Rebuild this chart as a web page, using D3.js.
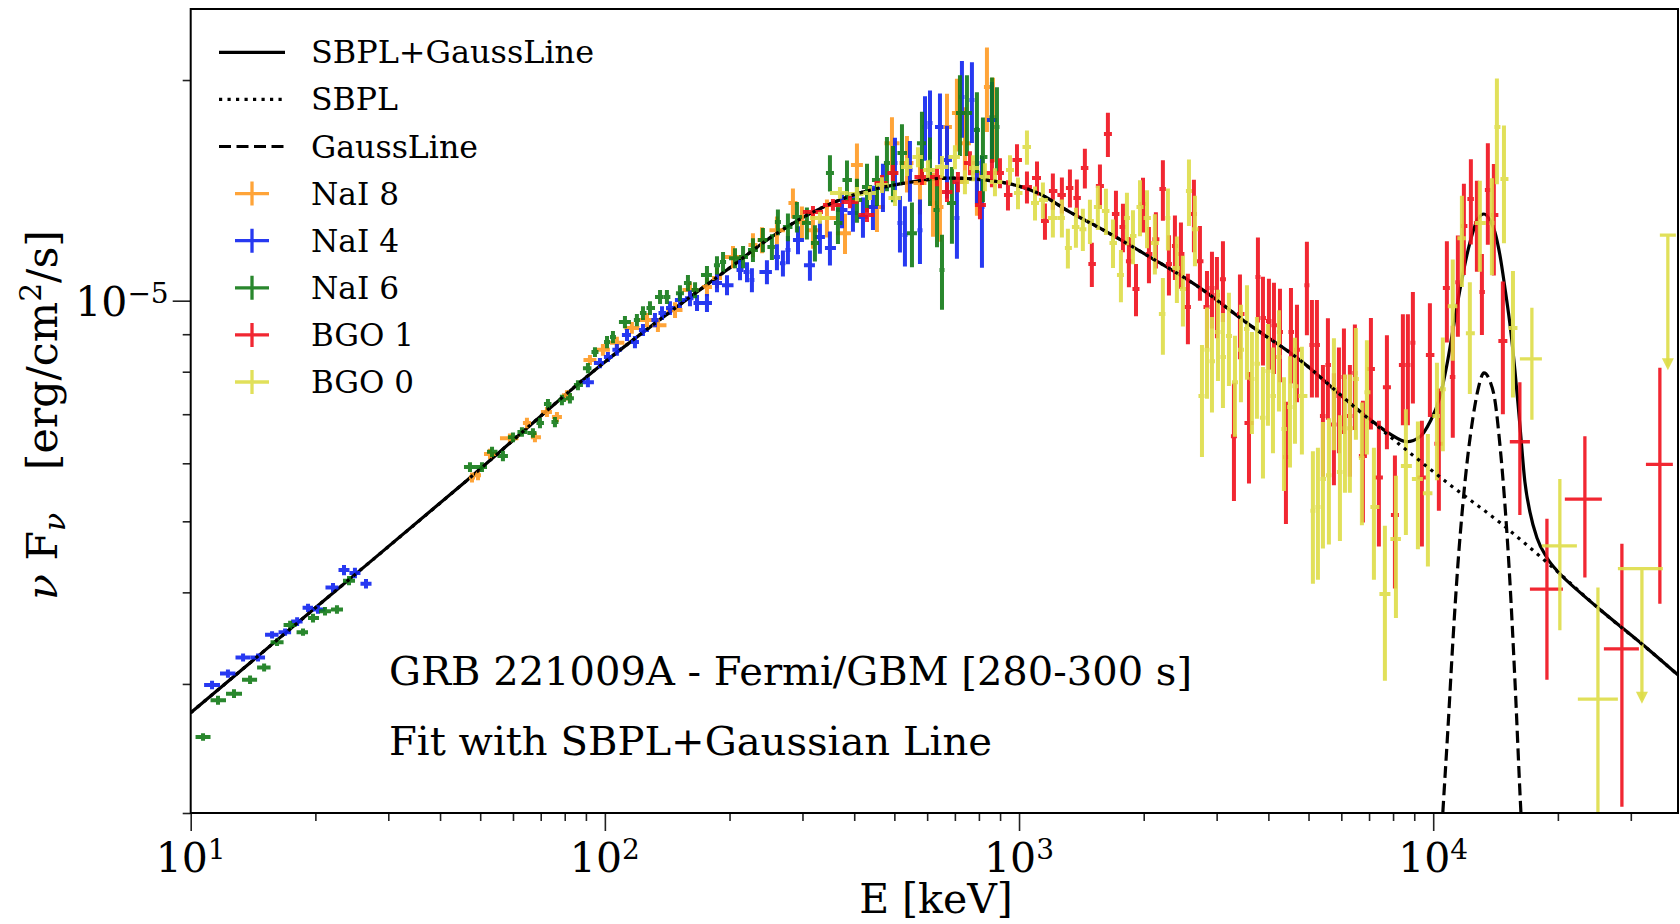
<!DOCTYPE html>
<html>
<head>
<meta charset="utf-8">
<script src="https://cdn.jsdelivr.net/npm/d3@7/dist/d3.min.js"></script>
<style>
html,body{margin:0;padding:0;background:#fff;}
svg{display:block;}
text{font-family:"DejaVu Serif","Liberation Serif",serif;fill:#000;}
</style>
</head>
<body>
<svg id="chart" width="1680" height="924"></svg>
<script>
// ---------------- DATA (flux values in units of 1e-6 erg/cm^2/s, energies in keV) ----------------
const UNIT = 1e-6;
const xDomain = [10, 39000];
const yDomain = [2e-6, 2.5e-5];
const majorX = [10, 100, 1000, 10000];
const xTickExp = ['1', '2', '3', '4'];
const minorX = [20,30,40,50,60,70,80,90,200,300,400,500,600,700,800,900,2000,3000,4000,5000,6000,7000,8000,9000,20000,30000];
const majorY = [1e-5];
const yTickExp = ['\u22125'];
const minorY = [2e-6,3e-6,4e-6,5e-6,6e-6,7e-6,8e-6,9e-6,2e-5];

const legendLabels = ['SBPL+GaussLine','SBPL','GaussLine','NaI 8','NaI 4','NaI 6','BGO 1','BGO 0'];
const annotationLines = ['GRB 221009A - Fermi/GBM [280-300 s]', 'Fit with SBPL+Gaussian Line'];

// model curves
const sbplE = [10, 20, 46.5, 100, 150, 200, 250, 318, 391, 516, 681, 900, 1123, 1327, 1568, 2070, 2734, 3610, 4766, 6293, 8309, 10970, 14490, 19130, 25260, 33350, 39400];
const sbplF = [2.74, 3.81, 5.69, 8.25, 9.83, 11.08, 12.17, 13.21, 13.89, 14.43, 14.70, 14.52, 13.98, 13.21, 12.56, 11.47, 10.41, 9.26, 8.30, 7.25, 6.36, 5.61, 4.98, 4.36, 3.79, 3.33, 3.07];

const totalE = [10, 20, 46.5, 100, 150, 200, 250, 318, 391, 516, 681, 900, 1123, 1327, 1568, 2070, 2734, 3610, 4766, 6293,
  7035, 7863, 8640, 9288, 9818, 10380, 10790, 11160, 11600, 12060, 12470, 12820, 13260, 13710, 14090, 14490, 14900, 15310, 15750, 16190, 16650, 17120, 17800, 18820, 20230, 22610, 25270, 33370, 39400];
const totalF = [2.74, 3.81, 5.69, 8.25, 9.83, 11.08, 12.17, 13.21, 13.89, 14.43, 14.70, 14.52, 13.98, 13.21, 12.56, 11.47, 10.41, 9.26, 8.30, 7.25,
  6.89, 6.58, 6.42, 6.52, 6.83, 7.39, 8.17, 9.12, 10.34, 11.54, 12.41, 12.93, 13.13, 12.88, 12.41, 11.54, 10.41, 9.32, 8.04, 6.77, 5.66, 5.15, 4.75, 4.46, 4.24, 4.00, 3.79, 3.33, 3.07];

const gaussE = [10260, 10554, 10851, 11160, 11470, 11790, 12130, 12470, 12820, 13260, 13710, 14090, 14490, 14900, 15310, 15750, 16280, 16740];
const gaussF = [1.52, 2.01, 2.60, 3.44, 4.36, 5.27, 6.16, 6.92, 7.55, 7.97, 7.77, 7.32, 6.36, 5.27, 4.16, 3.04, 2.01, 1.52];

// NaI 8
const nai8E = [47.77, 49.39, 52.80, 58.99, 64.84, 67.79, 72.47, 76.61, 80.99, 92.04, 98.92, 106.9, 116.2, 126.4, 134.3, 147.7, 160.5, 176.4, 186.5, 203.9, 227.8, 239.5, 260.3, 284.5, 299.1, 318.0, 343.7, 380.0, 406.1, 453.9, 493.4, 536.3, 576.5, 619.7, 644.3, 669.9, 708.0, 740.2, 791.3, 836.6, 865.0];
const nai8F = [5.74, 5.78, 6.18, 6.49, 6.81, 6.51, 7.05, 6.94, 7.43, 8.30, 8.57, 8.76, 9.18, 9.41, 9.26, 9.71, 10.34, 10.44, 10.74, 11.47, 11.91, 12.10, 12.48, 13.59, 12.80, 12.48, 12.97, 12.36, 15.32, 13.42, 16.40, 15.41, 14.47, 13.59, 13.42, 17.26, 18.03, 16.40, 14.94, 19.57, 17.80];
const nai8Err = [.09,.09,.10,.10,.11,.10,.11,.11,.12,.13,.16,.17,.17,.21,.20,.24,.26,.30,.34,.40,.45,.49,.55,.64,.64,.71,.77,.78,1.06,1.01,1.39,1.36,1.36,1.37,1.39,1.90,2.05,1.96,1.88,2.58,2.35];

// NaI 4
const nai4E = [11.26, 12.30, 13.38, 14.54, 15.72, 16.90, 18.07, 19.20, 20.29, 22.06, 23.45, 24.92, 26.50, 91.0, 97.3, 101.7, 106.9, 113.1, 118.2, 123.6, 132.1, 137.4, 143.6, 151.8, 160.5, 166.9, 176.4, 186.5, 197.2, 212.0, 220.4, 226.5, 246.2, 260.3, 269.1, 276.7, 292.6, 312.7, 330.6, 349.5, 373.7, 397.2, 419.9, 443.9, 469.3, 501.7, 515.8, 530.3, 545.3, 576.5, 592.8, 609.5, 644.3, 669.9, 708.0, 728.0, 769.6, 791.3, 813.7, 860.2];
const nai4F = [2.99, 3.10, 3.26, 3.26, 3.50, 3.53, 3.65, 3.81, 3.79, 4.06, 4.29, 4.25, 4.11, 7.74, 8.22, 8.38, 8.57, 8.98, 8.78, 9.12, 9.41, 9.62, 9.77, 10.02, 10.08, 9.93, 9.93, 10.57, 10.50, 11.01, 10.94, 10.67, 10.94, 11.47, 11.25, 11.73, 12.10, 11.18, 12.21, 11.80, 13.30, 13.17, 13.01, 13.42, 14.29, 15.41, 12.76, 12.29, 15.08, 12.48, 17.26, 17.47, 17.26, 15.56, 12.97, 18.96, 18.78, 15.41, 13.42, 17.64];
const nai4Err = [.04,.04,.04,.04,.04,.04,.05,.05,.05,.06,.07,.07,.06,.12,.13,.13,.16,.17,.17,.17,.21,.21,.21,.25,.25,.25,.28,.30,.33,.35,.34,.40,.41,.47,.46,.52,.53,.53,.62,.63,.75,.75,.82,.93,1.08,1.27,1.13,1.16,1.43,1.26,1.74,1.88,1.91,1.77,1.56,2.28,2.37,1.85,2.33,2.23];

// NaI 6
const nai6E = [10.71, 11.64, 12.72, 13.91, 15.04, 16.16, 17.38, 18.67, 19.74, 21.10, 22.55, 24.11, 47.24, 50.50, 53.40, 56.74, 59.99, 63.06, 67.04, 69.71, 72.88, 75.76, 78.76, 82.34, 86.10, 91.02, 94.64, 101.2, 104.6, 111.8, 119.5, 123.6, 128.5, 135.9, 141.2, 151.8, 158.7, 165.1, 176.4, 186.5, 192.9, 206.2, 215.6, 227.8, 240.8, 253.1, 261.7, 276.7, 290.9, 307.5, 321.5, 349.5, 365.4, 384.2, 406.1, 429.4, 453.9, 479.8, 496.1, 521.6, 551.4, 582.9, 609.5, 633.7, 651.6, 688.6, 720.0, 748.6, 791.3, 818.2, 860.2, 884.5];
const nai6F = [2.54, 2.85, 2.91, 3.04, 3.16, 3.42, 3.61, 3.53, 3.69, 3.77, 3.79, 4.15, 5.93, 5.93, 6.22, 6.14, 6.51, 6.62, 6.60, 6.81, 7.23, 6.83, 7.32, 7.36, 7.67, 8.09, 8.51, 8.78, 8.92, 9.35, 9.41, 9.62, 9.77, 10.12, 10.12, 10.24, 10.57, 10.34, 10.84, 11.18, 11.29, 11.43, 11.47, 11.73, 12.10, 11.84, 12.80, 12.60, 13.01, 12.76, 11.99, 14.94, 12.76, 14.61, 13.72, 14.29, 14.61, 15.41, 14.94, 15.90, 12.36, 16.40, 15.08, 13.30, 11.01, 13.59, 18.03, 18.03, 17.09, 15.70, 17.80, 17.26];
const nai6Err = [.03,.04,.04,.04,.04,.04,.05,.04,.05,.05,.05,.06,.09,.09,.10,.10,.10,.10,.10,.11,.11,.11,.12,.12,.12,.13,.13,.17,.17,.18,.18,.21,.21,.22,.22,.26,.27,.26,.31,.32,.36,.36,.40,.44,.46,.48,.52,.55,.62,.64,.68,.85,.81,.92,.95,1.08,1.15,1.31,1.32,1.51,1.25,1.71,1.62,1.47,1.29,1.63,2.28,2.28,2.16,2.08,2.36,2.29];

// BGO 1
const bgo1E = [318.0, 355.4, 390.6, 429.4, 466.7, 496.1, 582.9, 633.7, 669.9, 712.0, 761.1, 804.7, 860.2, 899.4, 940.3, 988.6, 1045, 1105, 1155, 1207, 1269, 1327, 1379, 1442, 1499, 1568, 1639, 1714, 1782, 1842, 1916, 1992, 2059, 2140, 2225, 2301, 2379, 2460, 2557, 2644, 2734, 2843, 2923, 3005, 3107, 3303, 3415, 3591, 3774, 3881, 4012, 4126, 4266, 4410, 4535, 4689, 4955, 5095, 5239, 5417, 5569, 5758, 5921, 6088, 6293, 6470, 6765, 7073, 7394, 7731, 8083, 8449, 8687, 8932, 9390, 9818, 10320, 10790, 11150, 11470, 11860, 12330, 12750, 13110, 13550, 14010, 14730];
const bgo1F = [13.21, 13.51, 13.63, 13.09, 14.47, 14.94, 14.75, 14.75, 14.07, 14.52, 15.41, 13.51, 14.94, 14.94, 13.94, 15.56, 14.29, 14.70, 12.84, 14.11, 13.94, 14.25, 13.81, 15.17, 11.22, 14.34, 16.88, 13.13, 12.60, 11.32, 10.37, 13.55, 11.58, 12.13, 14.20, 11.22, 11.87, 11.58, 9.80, 13.13, 11.32, 9.80, 10.41, 10.18, 10.70, 6.53, 9.59, 6.81, 10.77, 9.47, 9.38, 9.26, 9.06, 6.12, 9.06, 8.57, 10.50, 8.70, 8.70, 6.96, 8.17, 6.78, 7.41, 7.87, 6.96, 7.97, 6.14, 8.07, 5.74, 7.62, 5.10, 8.17, 8.17, 8.76, 5.74, 8.43, 6.38, 10.41, 7.87, 10.60, 12.64, 13.76, 12.76, 10.28, 14.16, 13.09, 8.81];
const bgo1Err = [.25,.25,.26,.29,.37,.38,.37,.42,.44,.46,.58,.60,.66,.70,.66,.79,.72,.79,.73,.80,.79,.85,.82,.95,.78,1.0,1.17,.99,.96,.89,.85,1.16,1.02,1.07,1.35,1.06,1.20,1.20,1.08,1.49,1.32,1.18,1.25,1.29,1.35,1.20,1.27,1.18,1.43,1.31,1.33,1.32,1.32,1.16,1.35,1.30,1.53,1.32,1.32,1.21,1.29,1.18,1.22,1.29,1.21,1.31,1.16,1.40,1.12,1.35,1.05,1.41,1.41,1.52,1.12,1.49,1.21,1.64,1.37,1.67,1.80,1.83,1.81,1.30,2.24,2.27,1.81];
const bgo1WideE = [16190, 18820, 23240, 28550, 35260];
const bgo1WideLo = [15310, 17120, 20790, 25830, 32630];
const bgo1WideHi = [17120, 20570, 25540, 31380, 37900];
const bgo1WideF = [6.42, 4.04, 5.36, 3.35, 5.98];
const bgo1WideErr = [1.32, 1.00, 1.17, 1.31, 2.12];

// BGO 0
const bgo0E = [330.6, 369.5, 406.1, 436.5, 466.7, 501.7, 536.3, 570.1, 602.7, 651.6, 700.2, 740.2, 774.0, 827.3, 874.7, 950.9, 994.1, 1045, 1093, 1142, 1207, 1269, 1312, 1372, 1426, 1483, 1550, 1621, 1686, 1762, 1822, 1884, 1959, 2037, 2128, 2225, 2288, 2405, 2487, 2572, 2659, 2765, 2843, 2923, 3022, 3107, 3212, 3322, 3434, 3551, 3650, 3753, 3881, 3990, 4103, 4242, 4362, 4510, 4637, 4819, 5123, 5268, 5417, 5600, 5758, 5954, 6122, 6293, 6506, 6727, 6917, 7192, 7645, 8128, 8591, 9184, 9709, 10210, 10550, 11150, 11730, 12260, 12960, 13860, 14250, 14820, 15580];
const bgo0F = [12.97, 14.03, 13.98, 14.03, 14.38, 13.81, 15.22, 15.70, 15.08, 15.22, 15.70, 14.52, 15.17, 14.75, 14.52, 15.08, 14.03, 16.20, 13.59, 13.72, 12.97, 12.97, 11.80, 12.60, 12.52, 12.84, 13.42, 13.25, 11.99, 10.84, 12.97, 12.25, 13.42, 12.97, 11.99, 9.59, 12.97, 11.08, 10.37, 14.11, 12.52, 7.41, 8.57, 8.27, 9.06, 8.38, 8.95, 7.74, 8.57, 9.15, 7.82, 8.20, 6.92, 8.02, 7.41, 8.38, 6.68, 7.16, 7.64, 7.41, 5.17, 5.23, 5.71, 5.78, 7.57, 5.84, 6.70, 6.70, 7.82, 6.10, 7.50, 5.23, 3.98, 4.73, 5.95, 5.71, 5.46, 6.96, 7.57, 9.83, 12.17, 9.03, 12.76, 12.76, 17.26, 14.66, 9.18];
const bgo0Err = [.24,.26,.31,.31,.36,.35,.43,.49,.47,.53,.59,.55,.62,.65,.64,.71,.70,.87,.73,.78,.77,.77,.74,.79,.83,.89,.93,.96,.91,.89,1.07,1.04,1.18,1.18,1.13,1.15,1.26,1.15,1.15,1.47,1.38,1.29,1.22,1.23,1.29,1.24,1.30,1.22,1.30,1.35,1.24,1.30,1.20,1.27,1.22,1.32,1.18,1.24,1.26,1.24,1.06,1.07,1.12,1.13,1.32,1.14,1.23,1.23,1.36,1.16,1.33,1.07,.95,1.04,1.16,1.13,1.12,1.27,1.34,1.55,1.73,1.57,1.81,1.93,2.84,2.68,1.80];
const bgo0WideE = [17310, 20220, 24990];
const bgo0WideLo = [16190, 18300, 22350];
const bgo0WideHi = [18300, 22230, 27920];
const bgo0WideF = [8.33, 4.63, 2.86];
const bgo0WideErr = [1.45, 1.08, 1.20];
const bgo0UlE = [31910, 36860];
const bgo0UlLo = [27920, 35260];
const bgo0UlHi = [35850, 38540];
const bgo0UlF = [4.31, 12.29];

// ---------------- DRAWING ----------------
const M = {left: 190.7, right: 1678, top: 9, bottom: 813};
const svg = d3.select('#chart');
const x = d3.scaleLog().domain(xDomain).range([M.left, M.right]);
const y = d3.scaleLog().domain(yDomain).range([M.bottom, M.top]);

svg.append('rect').attr('width', 1680).attr('height', 924).attr('fill', '#fff');
svg.append('defs').append('clipPath').attr('id', 'plotClip').append('rect')
  .attr('x', M.left).attr('y', M.top).attr('width', M.right - M.left).attr('height', M.bottom - M.top);

const plot = svg.append('g').attr('clip-path', 'url(#plotClip)');
const zip = (E, F) => E.map((e, i) => [e, F[i]]);
const line = d3.line().x(d => x(d[0])).y(d => y(d[1] * UNIT)).curve(d3.curveMonotoneX);

const LW = 3.2;
// total model (drawn beneath the data points)
plot.append('path').attr('d', line(zip(totalE, totalF)))
  .attr('fill', 'none').attr('stroke', '#000').attr('stroke-width', LW);

function autoBins(E) {
  const n = E.length, lo = [], hi = [];
  for (let i = 0; i < n; i++) {
    let l = i > 0 ? Math.log(E[i] / E[i - 1]) / 2 : null;
    let r = i < n - 1 ? Math.log(E[i + 1] / E[i]) / 2 : null;
    if (l === null) l = r;
    if (r === null) r = l;
    if (l > r * 1.6) l = r;
    if (r > l * 1.6) r = l;
    lo.push(E[i] / Math.exp(l)); hi.push(E[i] * Math.exp(r));
  }
  return {lo, hi};
}
function errPath(e, lo, hi, f, er) {
  const xc = x(e), yc = y(f * UNIT);
  const yt = y((f + er) * UNIT);
  const yb = (f - er) > 0.05 ? y((f - er) * UNIT) : M.bottom + 60;
  return `M${xc},${yt}V${yb}M${x(lo)},${yc}H${x(hi)}`;
}

const colors = {
  'NaI 8': '#ff9a22',
  'NaI 4': '#1024f0',
  'NaI 6': '#127a16',
  'BGO 1': '#f0101c',
  'BGO 0': '#dedd48'
};
const OP = 0.9;
const EW = 4.0;

const series = [
  {name: 'NaI 8', E: nai8E, F: nai8F, Err: nai8Err},
  {name: 'NaI 4', E: nai4E, F: nai4F, Err: nai4Err},
  {name: 'NaI 6', E: nai6E, F: nai6F, Err: nai6Err},
  {name: 'BGO 1', E: bgo1E, F: bgo1F, Err: bgo1Err,
    wide: {E: bgo1WideE, lo: bgo1WideLo, hi: bgo1WideHi, F: bgo1WideF, Err: bgo1WideErr}},
  {name: 'BGO 0', E: bgo0E, F: bgo0F, Err: bgo0Err,
    wide: {E: bgo0WideE, lo: bgo0WideLo, hi: bgo0WideHi, F: bgo0WideF, Err: bgo0WideErr},
    ul: {E: bgo0UlE, lo: bgo0UlLo, hi: bgo0UlHi, F: bgo0UlF}}
];

series.forEach(s => {
  const g = plot.append('g').attr('stroke', colors[s.name]).attr('fill', 'none')
    .attr('stroke-width', EW).attr('stroke-opacity', OP);
  const b = autoBins(s.E);
  g.selectAll('path.pt').data(s.E.map((e, i) => ({e, f: s.F[i], er: s.Err[i], lo: b.lo[i], hi: b.hi[i]})))
    .enter().append('path').attr('class', 'pt')
    .attr('d', d => errPath(d.e, d.lo, d.hi, d.f, d.er));
  if (s.wide) {
    g.selectAll('path.wd').data(s.wide.E.map((e, i) => ({e, f: s.wide.F[i], er: s.wide.Err[i], lo: s.wide.lo[i], hi: s.wide.hi[i]})))
      .enter().append('path').attr('class', 'wd').attr('stroke-width', 3.3)
      .attr('d', d => errPath(d.e, d.lo, d.hi, d.f, d.er));
  }
  if (s.ul) {
    const uls = s.ul.E.map((e, i) => ({e, f: s.ul.F[i], lo: s.ul.lo[i], hi: s.ul.hi[i]}));
    g.selectAll('path.ul').data(uls).enter().append('path').attr('class', 'ul').attr('stroke-width', 3.3)
      .attr('d', d => {
        const xc = x(d.e), yt = y(d.f * UNIT), yb = y(d.f * 0.654 * UNIT);
        return `M${x(d.lo)},${yt}H${x(d.hi)}M${xc},${yt}V${yb - 4}`;
      });
    g.selectAll('path.ulh').data(uls).enter().append('path').attr('class', 'ulh')
      .attr('stroke', 'none').attr('fill', colors[s.name]).attr('fill-opacity', OP)
      .attr('d', d => {
        const xc = x(d.e), yb = y(d.f * 0.654 * UNIT);
        return `M${xc - 6},${yb - 12}L${xc + 6},${yb - 12}L${xc},${yb}Z`;
      });
  }
});

// SBPL dotted and Gaussian dashed on top
plot.append('path').attr('d', line(zip(sbplE, sbplF)))
  .attr('fill', 'none').attr('stroke', '#000').attr('stroke-width', LW).attr('stroke-dasharray', '3.2,5.3');
plot.append('path').attr('d', line(zip(gaussE, gaussF)))
  .attr('fill', 'none').attr('stroke', '#000').attr('stroke-width', LW).attr('stroke-dasharray', '12,5.5');

// ---------------- AXES ----------------
function styleAxis(g) {
  g.select('.domain').remove();
  g.selectAll('.tick line').attr('stroke', '#222').attr('stroke-width', 1.6);
}
svg.append('g').attr('transform', `translate(0,${M.bottom})`)
  .call(d3.axisBottom(x).tickValues(majorX).tickSize(18).tickFormat(() => '')).call(styleAxis);
svg.append('g').attr('transform', `translate(0,${M.bottom})`)
  .call(d3.axisBottom(x).tickValues(minorX).tickSize(8).tickFormat(() => '')).call(styleAxis);
svg.append('g').attr('transform', `translate(${M.left},0)`)
  .call(d3.axisLeft(y).tickValues(majorY).tickSize(18).tickFormat(() => '')).call(styleAxis);
svg.append('g').attr('transform', `translate(${M.left},0)`)
  .call(d3.axisLeft(y).tickValues(minorY).tickSize(8).tickFormat(() => '')).call(styleAxis);

svg.append('rect').attr('x', M.left).attr('y', M.top)
  .attr('width', M.right - M.left).attr('height', M.bottom - M.top)
  .attr('fill', 'none').attr('stroke', '#000').attr('stroke-width', 2);

// tick labels
majorX.forEach((v, i) => {
  const t = svg.append('text').attr('x', x(v)).attr('y', 872).attr('text-anchor', 'middle').attr('font-size', 41);
  t.append('tspan').text('10');
  t.append('tspan').attr('dy', -13).attr('font-size', 28).text(xTickExp[i]);
});
majorY.forEach((v, i) => {
  const t = svg.append('text').attr('x', M.left - 22).attr('y', y(v) + 15).attr('text-anchor', 'end').attr('font-size', 41);
  t.append('tspan').text('10');
  t.append('tspan').attr('dy', -13).attr('font-size', 28).text(yTickExp[i]);
});

// axis labels
svg.append('text').attr('x', 936).attr('y', 913).attr('text-anchor', 'middle').attr('font-size', 41).text('E [keV]');
const yl = svg.append('text').attr('transform', 'translate(57,415) rotate(-90)')
  .attr('text-anchor', 'middle').attr('font-size', 43)
  .attr('textLength', 370).attr('lengthAdjust', 'spacingAndGlyphs');
yl.append('tspan').attr('font-style', 'italic').text('\u03bd');
yl.append('tspan').text(' F');
yl.append('tspan').attr('font-style', 'italic').attr('font-size', 30).attr('dy', 8).text('\u03bd');
yl.append('tspan').attr('dy', -8).text('\u2002\u2002[erg/cm');
yl.append('tspan').attr('font-size', 30).attr('dy', -16).text('2');
yl.append('tspan').attr('dy', 16).text('/s]');

// annotation
const annW = [803, 603];
annotationLines.forEach((s, i) => {
  svg.append('text').attr('x', 389).attr('y', 685 + i * 70).attr('font-size', 38.5)
    .attr('textLength', annW[i]).attr('lengthAdjust', 'spacingAndGlyphs').text(s);
});

// ---------------- LEGEND ----------------
const legW = [283, 87, 167, 88, 88, 88, 103, 103];
const lg = svg.append('g');
legendLabels.forEach((lab, i) => {
  const base = 63.3 + i * 47.1;
  const cy = base - 11;
  lg.append('text').attr('x', 311).attr('y', base).attr('font-size', 31)
    .attr('textLength', legW[i]).attr('lengthAdjust', 'spacingAndGlyphs').text(lab);
  if (i < 3) {
    const l = lg.append('line').attr('x1', 219).attr('x2', 285).attr('y1', cy).attr('y2', cy)
      .attr('stroke', '#000').attr('stroke-width', LW);
    if (i === 1) l.attr('stroke-dasharray', '3.2,5.3');
    if (i === 2) l.attr('stroke-dasharray', '12,5.5');
  } else {
    lg.append('path').attr('d', `M252,${cy - 12}V${cy + 12}M235,${cy}H269`)
      .attr('stroke', colors[lab]).attr('stroke-width', 3.3).attr('stroke-opacity', OP).attr('fill', 'none');
  }
});
</script>
</body>
</html>
